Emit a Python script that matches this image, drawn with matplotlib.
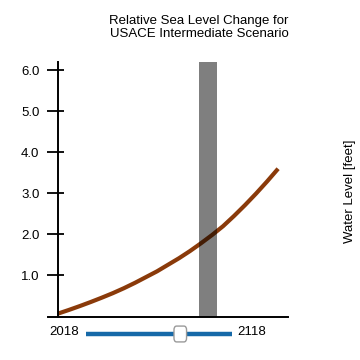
import matplotlib
matplotlib.use("Agg")
import matplotlib.pyplot as plt
from matplotlib.patches import FancyBboxPatch

# data
years = [2018, 2023, 2028, 2033, 2038, 2043, 2048, 2053, 2058, 2063, 2068,
         2073, 2078, 2083, 2088, 2093, 2098, 2103, 2108, 2113, 2118]
water_level = [0.07, 0.16, 0.255, 0.355, 0.46, 0.57, 0.69, 0.82, 0.96, 1.10, 1.26,
               1.42, 1.595, 1.785, 1.985, 2.20, 2.45, 2.715, 2.995, 3.29, 3.60]
y_ticks = [1, 2, 3, 4, 5, 6]
y_tick_labels = ["1.0", "2.0", "3.0", "4.0", "5.0", "6.0"]
slider_start, slider_end = 2018, 2118
selected_year = 2086.2
window_width = 8.2

plt.rcParams["font.family"] = ["Liberation Sans", "DejaVu Sans"]
FS = 9.5

fig = plt.figure(figsize=(3.6, 3.6), dpi=100)

# --- main chart ---
ax = fig.add_axes([48 / 360, 1 - 316.5 / 360, 240 / 360, 254.5 / 360])
ax.plot(years, water_level, color="#8a3a0a", lw=3, solid_capstyle="butt", zorder=2)
ax.axvspan(selected_year - window_width / 2, selected_year + window_width / 2,
           color="black", alpha=0.5, lw=0, zorder=3)

ax.set_xlim(2013.5, 2122.5)
ax.set_ylim(0, 6.2)
ax.spines["left"].set_position(("data", slider_start))
ax.spines["left"].set_linewidth(1.4)
ax.spines["bottom"].set_linewidth(1.4)
for s in ["top", "right"]:
    ax.spines[s].set_visible(False)
ax.set_xticks([])
ax.set_yticks(y_ticks)
ax.set_yticklabels(y_tick_labels, fontsize=FS)
# ticks stick out more than in: long outer tick + short inner one
ax.set_yticks(y_ticks, minor=True)
ax.yaxis.remove_overlapping_locs = False
ax.tick_params(axis="y", which="major", direction="out", length=8, width=1.3, pad=5.3)
ax.tick_params(axis="y", which="minor", direction="in", length=4, width=1.3)

# --- title and label ---
fig.text(199 / 360, 1 - 27.5 / 360,
         "Relative Sea Level Change for\nUSACE Intermediate Scenario",
         ha="center", va="center", fontsize=FS, linespacing=1.15)
fig.text(350 / 360, 1 - 191 / 360, "Water Level [feet]", rotation=90,
         ha="center", va="center", fontsize=FS)

# --- slider ---
pad = 11.6
sax = fig.add_axes([85.7 / 360, 1 - 343 / 360, 146 / 360, 18 / 360])
sax.set_xlim(slider_start - pad, slider_end + pad)
sax.set_ylim(0, 1)
sax.axis("off")
sax.plot([slider_start - pad, slider_end + pad], [0.5, 0.5], color="#1669a8",
         lw=3.2, solid_capstyle="butt", zorder=1)
hw = 7 / 146 * (slider_end - slider_start + 2 * pad)
handle = FancyBboxPatch((selected_year - hw + 0.6, 0.06), 2 * hw - 1.2, 0.88,
                        boxstyle="round,pad=0,rounding_size=2.2",
                        mutation_aspect=1 / 10,
                        facecolor="white", edgecolor="#9a9a9a", lw=1, zorder=3,
                        clip_on=False)
sax.add_patch(handle)

fig.text(79 / 360, 1 - 332 / 360, str(slider_start), ha="right", va="center", fontsize=FS)
fig.text(237 / 360, 1 - 332 / 360, str(slider_end), ha="left", va="center", fontsize=FS)

fig.savefig("out.png", dpi=100)
